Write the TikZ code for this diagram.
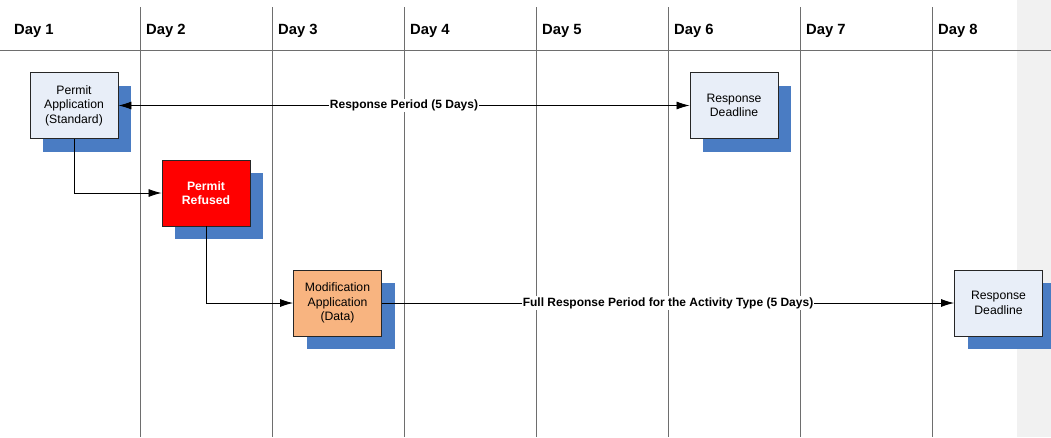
\documentclass[tikz,border=0pt]{standalone}
\usepackage{fontspec}
\setmainfont{Liberation Sans}
\usetikzlibrary{arrows.meta,shadows}
\definecolor{boxfill}{HTML}{E8EEF8}
\definecolor{shadowblue}{HTML}{4A7CC3}
\definecolor{refusedred}{HTML}{FF0000}
\definecolor{modorange}{HTML}{F8B480}
\definecolor{sidegrey}{HTML}{F1F1F1}
\definecolor{linegrey}{HTML}{6E6E6E}

\begin{document}
\begin{tikzpicture}[x=1pt,y=-1pt]
	\tikzset{daylabel/.style={anchor=base west,inner sep=0pt,font=\fontsize{14.8}{17}\selectfont\bfseries}}
	\tikzset{stepbox/.style={draw=black!85,line width=0.9pt,fill=boxfill,minimum width=88pt,minimum height=66pt,
			inner sep=0pt,align=center,font=\fontsize{12.2}{14.5}\selectfont,
			drop shadow={shadow xshift=13pt,shadow yshift=-13pt,fill=shadowblue,opacity=1}}}
	\tikzset{flow/.style={draw,line width=0.8pt,-{Latex[length=13pt,width=8pt]}}}
	\tikzset{period/.style={fill=white,inner sep=1pt,font=\fontsize{12}{14}\selectfont\bfseries}}
	\useasboundingbox (0,0) rectangle (1051,437);
	\fill[sidegrey] (1017,0) rectangle (1051,437);
	\draw[linegrey,line width=0.9pt] (0,50.5) -- (1051,50.5);
	\foreach \d in {2,...,8}
		\draw[linegrey,line width=0.9pt] ({140+(\d-2)*132},7) -- ({140+(\d-2)*132},437);
	\foreach \d in {1,...,8}
		\node[daylabel] (day\d) at ({(\d-1)*132+14},34) {Day \d};
	% steps
	\node[stepbox] (permitapp) at (74,105.5) {Permit\\Application\\(Standard)};
	\node[stepbox,fill=refusedred,text=white,font=\fontsize{12.2}{14.5}\selectfont\bfseries] (refused) at (206,193) {Permit\\Refused};
	\node[stepbox,fill=modorange] (modapp) at (337.5,303) {Modification\\Application\\(Data)};
	\node[stepbox] (deadline1) at (734,105.5) {Response\\Deadline};
	\node[stepbox] (deadline2) at (998.5,303) {Response\\Deadline};
	% connectors
	\draw[flow,{Latex[length=13pt,width=8pt]}-{Latex[length=13pt,width=8pt]}] (permitapp) -- node[period] {Response Period (5 Days)} (deadline1);
	\draw[flow] (permitapp.south) |- (refused.west);
	\draw[flow] (refused.south) |- (modapp.west);
	\draw[flow] (modapp) -- node[period] {Full Response Period for the Activity Type (5 Days)} (deadline2);
\end{tikzpicture}
\end{document}
